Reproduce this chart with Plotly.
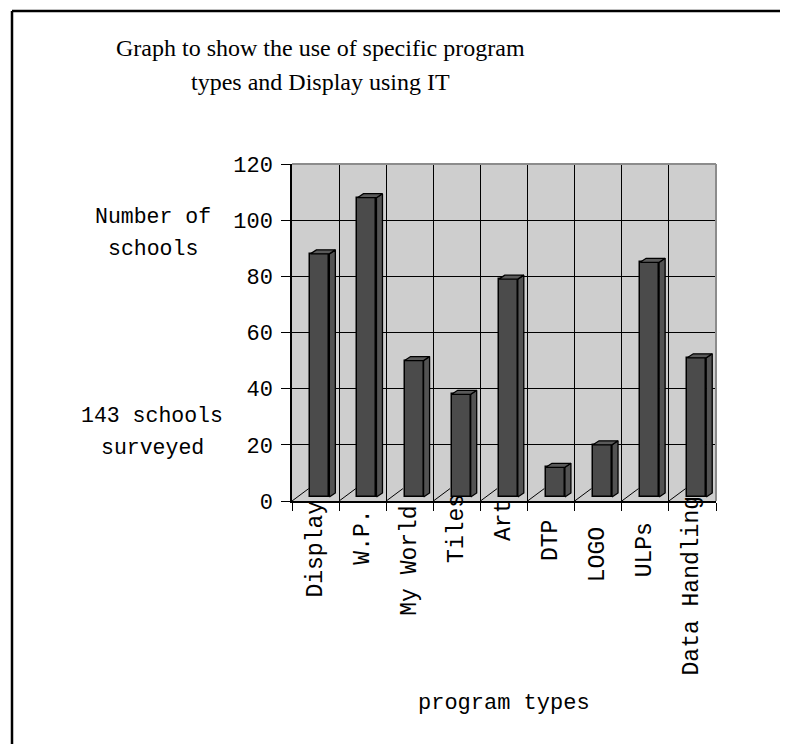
import plotly.graph_objects as go

# ---- data ----
categories = ["Display", "W.P.", "My World", "Tiles", "Art", "DTP", "LOGO", "ULPs", "Data Handling"]
values = [88, 108, 50, 38, 79, 12, 20, 85, 51]
y_ticks = [0, 20, 40, 60, 80, 100, 120]

title_lines = ["Graph to show the use of specific program", "types and Display using IT"]
y_note_1 = ["Number of", "schools"]
y_note_2 = ["143 schools", "surveyed"]
x_title = "program types"

# ---- styling / geometry (screen pixels; page body adds an 8px offset) ----
OFF = 8
W, H = 788 - OFF, 744 - OFF
PLOT_L, PLOT_T = 292, 164          # desired on-screen plot origin
PW, PH = 424, 337
L, T = PLOT_L - OFF, PLOT_T - OFF
R, B = W - L - PW, H - T - PH
YMAX = 120
px_x = 1.0 / (PW / 9.0)        # category units per pixel
px_y = YMAX / PH                # value units per pixel

bar_shift = 4.3 * px_x
bar_w = 19 * px_x
dx = 6 * px_x
dy = 4 * px_y
base0 = 4 * px_y
floor_dx = 16.7 * px_x
floor_dy = 12.4 * px_y

label_center_px = [549, 537, 561, 528, 521, 541, 555, 550, 586]

mono = "Liberation Mono"
serif = "Liberation Serif"
bar_col = "#4b4b4b"

def paper_x(p):
    return (p - PLOT_L) / PW

def paper_y(p):
    return (PLOT_T + PH - p) / PH

xs = list(range(len(categories)))

fig = go.Figure()

# floor depth lines at category boundaries
fx, fy = [], []
for k in range(len(categories) + 1):
    b = k - 0.5
    fx += [b, b + floor_dx, None]
    fy += [0, floor_dy, None]
fig.add_trace(go.Scatter(x=fx, y=fy, mode="lines", line=dict(color="black", width=1),
                         hoverinfo="skip", showlegend=False, cliponaxis=False))

# front faces
fig.add_trace(go.Bar(
    x=[i + bar_shift for i in xs], y=[v - base0 for v in values], base=base0,
    width=bar_w, marker=dict(color=bar_col, line=dict(color="black", width=1.5)),
    showlegend=False, hoverinfo="skip"))

# side and top faces
sx, sy, tx, ty = [], [], [], []
for i, v in zip(xs, values):
    xl = i + bar_shift - bar_w / 2
    xr = i + bar_shift + bar_w / 2
    sx += [xr, xr + dx, xr + dx, xr, xr, None]
    sy += [base0, base0 + dy, v + dy, v, base0, None]
    tx += [xl, xl + dx, xr + dx, xr, xl, None]
    ty += [v, v + dy, v + dy, v, v, None]
fig.add_trace(go.Scatter(x=sx, y=sy, mode="lines", fill="toself", fillcolor="#535353",
                         line=dict(color="black", width=1.3), hoverinfo="skip", showlegend=False))
fig.add_trace(go.Scatter(x=tx, y=ty, mode="lines", fill="toself", fillcolor="#5a5a5a",
                         line=dict(color="black", width=1.3), hoverinfo="skip", showlegend=False))

annotations = []
# rotated category labels
for i, (c, cy) in enumerate(zip(categories, label_center_px)):
    annotations.append(dict(x=i, xref="x", y=paper_y(cy), yref="paper", text=c, showarrow=False,
                            textangle=-90, xanchor="center", yanchor="middle",
                            font=dict(family=mono, size=23, color="black")))
# title lines
for txt, cy in zip(title_lines, [48, 82]):
    annotations.append(dict(x=paper_x(320), xref="paper", y=paper_y(cy), yref="paper", text=txt,
                            showarrow=False, xanchor="center", yanchor="middle",
                            font=dict(family=serif, size=24, color="black")))
# y notes
for txt, cx, cy in zip(y_note_1 + y_note_2, [153, 153, 152, 152], [217, 249, 416, 448]):
    annotations.append(dict(x=paper_x(cx), xref="paper", y=paper_y(cy), yref="paper", text=txt,
                            showarrow=False, xanchor="center", yanchor="middle",
                            font=dict(family=mono, size=21.5, color="black")))
# x title
annotations.append(dict(x=0.5, xref="paper", y=paper_y(703), yref="paper", text=x_title,
                        showarrow=False, xanchor="center", yanchor="middle",
                        font=dict(family=mono, size=22, color="black")))

shapes = [
    # plot area top and right border
    dict(type="line", xref="paper", yref="paper", x0=0, x1=1, y0=1, y1=1,
         line=dict(color="#8c8c8c", width=2)),
    dict(type="line", xref="paper", yref="paper", x0=1, x1=1, y0=0, y1=1,
         line=dict(color="#8c8c8c", width=2)),
    # outer chart border (left and top)
    dict(type="line", xref="paper", yref="paper", x0=paper_x(12), x1=paper_x(12),
         y0=paper_y(11), y1=paper_y(760), line=dict(color="black", width=2.5)),
    dict(type="line", xref="paper", yref="paper", x0=paper_x(12), x1=paper_x(800),
         y0=paper_y(11), y1=paper_y(11), line=dict(color="black", width=2.5)),
]

fig.update_layout(
    width=W, height=H,
    margin=dict(l=L, r=R, t=T, b=B, pad=0),
    paper_bgcolor="white", plot_bgcolor="#cecece",
    showlegend=False, bargap=0,
    annotations=annotations, shapes=shapes,
    xaxis=dict(range=[-0.5, 8.5], showticklabels=False, showgrid=False, zeroline=False,
               showline=True, linecolor="black", linewidth=1.5, ticks="",
               minor=dict(tickmode="linear", tick0=-0.5, dtick=1, showgrid=True,
                          gridcolor="black", gridwidth=1, ticks="outside", ticklen=8,
                          tickcolor="black", tickwidth=1)),
    yaxis=dict(range=[0, YMAX], tickvals=y_ticks, showgrid=True, gridcolor="black",
               gridwidth=1, zeroline=False, showline=True, linecolor="black", linewidth=1.5,
               ticks="outside", ticklen=9, tickcolor="black", tickwidth=1,
               ticklabelstandoff=4,
               tickfont=dict(family=mono, size=22, color="black")),
)

fig.write_html("out.html")
